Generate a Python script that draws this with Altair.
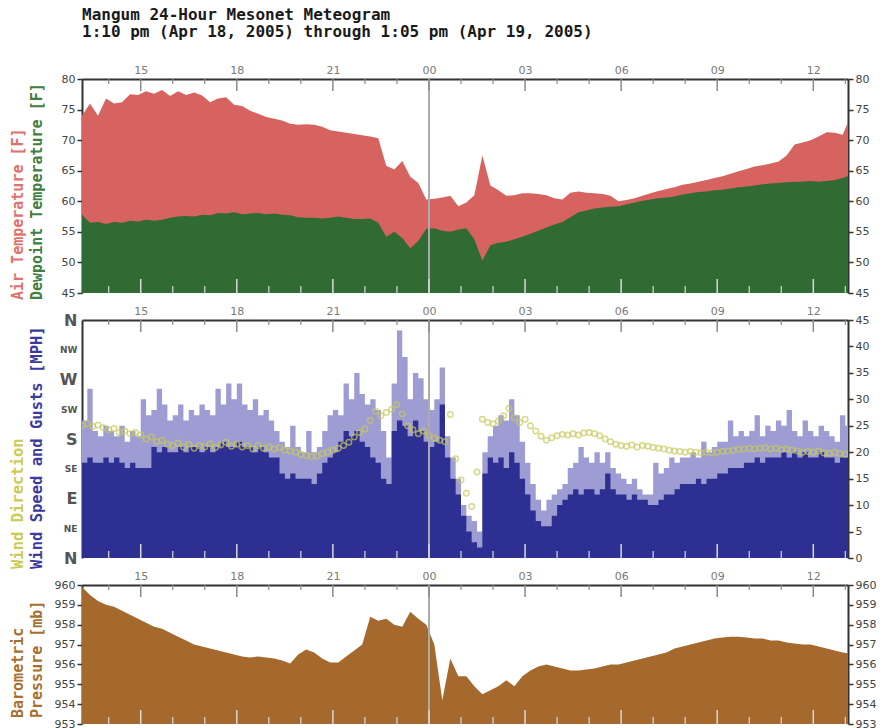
import altair as alt
import numpy as np
import pandas as pd

# ---------------- text ----------------
TITLE_LINES = ["Mangum 24-Hour Mesonet Meteogram",
               "1:10 pm (Apr 18, 2005) through 1:05 pm (Apr 19, 2005)"]
AXIS_TITLES = ["Air Temperature [F]", "Dewpoint Temperature [F]",
               "Wind Direction", "Wind Speed and Gusts [MPH]",
               "Barometric", "Pressure [mb]"]
DIR_NAMES = ["N", "NE", "E", "SE", "S", "SW", "W", "NW", "N"]

# ---------------- ticks ----------------
START_HOUR = 13 + 10 / 60
END_HOUR = 37 + 5 / 60
HOUR_LABELS = [15, 18, 21, 24, 27, 30, 33, 36]
MINOR_HOURS = [14, 16, 17, 19, 20, 22, 23, 25, 26, 28, 29, 31, 32, 34, 35, 37]
MIDNIGHT = [24]
TEMP_TICKS = [45, 50, 55, 60, 65, 70, 75, 80]
SPEED_TICKS = [0, 5, 10, 15, 20, 25, 30, 35, 40, 45]
DIR_TICKS = [0, 45, 90, 135, 180, 225, 270, 315, 360]
PRES_TICKS = [953, 954, 955, 956, 957, 958, 959, 960]

# ---------------- 15-minute series (from 1:10 pm) ----------------
AIR_TEMP = [74.0, 76.0, 74.0, 76.8, 76.0, 76.2, 77.5, 77.4,
            78.0, 77.6, 78.2, 77.2, 78.0, 77.4, 77.8, 77.3,
            76.2, 76.8, 77.0, 75.8, 75.6, 74.8, 74.3, 73.8,
            73.5, 73.2, 72.7, 72.5, 72.6, 72.5, 72.2, 71.6,
            71.4, 71.2, 71.0, 70.8, 70.6, 70.3, 65.8, 65.2,
            66.6, 64.0, 63.0, 60.3, 60.4, 60.6, 60.9, 59.2,
            59.8, 61.0, 67.5, 62.6, 61.8, 60.9, 61.0, 61.3,
            61.3, 61.2, 61.0, 60.5, 60.3, 61.4, 61.6, 61.4,
            61.3, 61.2, 60.9, 60.0, 60.2, 60.5, 60.9, 61.3,
            61.7, 62.0, 62.3, 62.7, 62.9, 63.2, 63.5, 63.8,
            64.1, 64.5, 64.9, 65.3, 65.7, 65.9, 66.2, 66.5,
            67.5, 69.3, 69.6, 70.0, 70.6, 71.3, 71.2, 70.9,
            74.0]
DEW_TEMP = [57.8, 56.5, 56.6, 56.3, 56.6, 56.5, 56.8, 56.7,
            57.0, 56.8, 57.0, 57.3, 57.5, 57.6, 57.5, 57.8,
            57.7, 58.1, 58.0, 58.2, 57.9, 58.0, 58.1, 57.9,
            58.0, 57.8, 57.7, 57.4, 57.3, 57.3, 57.2, 57.3,
            57.5, 57.3, 57.1, 57.1, 57.2, 56.5, 54.2, 55.0,
            54.0, 52.3, 53.5, 55.5, 55.6, 55.2, 55.0, 55.4,
            55.6, 53.8, 50.3, 52.8, 53.2, 53.4, 53.8, 54.2,
            54.7, 55.2, 55.7, 56.2, 56.6, 57.4, 58.2, 58.5,
            58.8, 59.0, 59.1, 59.2, 59.5, 59.8, 60.1, 60.3,
            60.5, 60.6, 60.8, 61.1, 61.3, 61.5, 61.6, 61.8,
            61.9, 62.1, 62.3, 62.4, 62.6, 62.8, 62.9, 63.0,
            63.1, 63.2, 63.2, 63.3, 63.2, 63.3, 63.5, 63.8,
            64.3]
PRESSURE = [959.9, 959.5, 959.2, 959.0, 958.9, 958.7, 958.5, 958.3,
            958.1, 957.9, 957.8, 957.6, 957.4, 957.2, 957.0, 956.9,
            956.8, 956.7, 956.6, 956.5, 956.4, 956.35, 956.4, 956.35,
            956.3, 956.2, 956.05, 956.5, 956.75, 956.6, 956.3, 956.1,
            956.1, 956.4, 956.7, 957.0, 958.4, 958.2, 958.3, 958.0,
            957.9, 958.65, 958.3, 958.0, 957.0, 954.2, 956.3, 955.4,
            955.4, 954.9, 954.5, 954.7, 954.9, 955.2, 954.9, 955.4,
            955.7, 955.9, 956.0, 955.9, 955.8, 955.7, 955.7, 955.75,
            955.8, 955.9, 956.0, 956.0, 956.1, 956.2, 956.3, 956.4,
            956.5, 956.6, 956.8, 956.9, 957.0, 957.1, 957.2, 957.3,
            957.35, 957.4, 957.4, 957.35, 957.3, 957.3, 957.2, 957.2,
            957.1, 957.05, 957.0, 957.0, 956.9, 956.8, 956.7, 956.6,
            956.55]

# ---------------- 10-minute series (from 1:10 pm) ----------------
WIND_SPEED = [18, 19, 18, 18, 19,
              18, 19, 18, 17, 18, 17,
              17, 17, 21, 20, 21, 20,
              20, 21, 20, 21, 21, 20,
              21, 20, 21, 22, 21, 21,
              22, 21, 21, 20, 21, 20,
              19, 19, 16, 15, 16, 15,
              15, 15, 14, 16, 18, 19,
              20, 22, 24, 23, 24, 22,
              21, 19, 18, 15, 14, 24,
              26, 25, 23, 26, 24, 22,
              21, 22, 29, 19, 15, 12,
              8, 5, 3, 2, 16, 19,
              18, 19, 17, 20, 18, 15,
              12, 9, 7, 6, 6, 8,
              10, 11, 12, 13, 12, 13,
              13, 12, 13, 16, 13, 12,
              12, 11, 12, 11, 11, 10,
              10, 11, 12, 12, 13, 14,
              14, 14, 15, 14, 15, 15,
              16, 16, 17, 17, 17, 18,
              18, 19, 18, 19, 19, 19,
              20, 19, 20, 19, 20, 19,
              19, 20, 19, 19, 18, 19,
              19, 19]
WIND_GUST = [26, 32, 24, 23, 25,
             24, 23, 25, 22, 24, 23,
             30, 27, 28, 32, 29, 26,
             27, 29, 26, 28, 27, 29,
             28, 27, 32, 29, 33, 30,
             33, 29, 28, 30, 27, 28,
             26, 24, 22, 21, 25, 21,
             20, 24, 20, 21, 24, 27,
             28, 27, 33, 30, 35, 31,
             29, 30, 28, 24, 19, 33,
             43, 38, 30, 35, 34, 30,
             28, 30, 36, 23, 19, 15,
             10, 8, 7, 5, 20, 23,
             25, 27, 26, 30, 27, 22,
             18, 14, 11, 9, 11, 12,
             13, 14, 17, 18, 21, 19,
             18, 20, 18, 20, 17, 16,
             15, 14, 15, 13, 12, 12,
             18, 16, 17, 19, 18, 19,
             19, 20, 19, 22, 20, 21,
             22, 22, 26, 23, 24, 23,
             24, 27, 23, 25, 24, 26,
             25, 28, 24, 23, 26, 24,
             23, 25, 24, 23, 22, 27,
             25, 25]
WIND_DIR = [200, 203, 199, 201, 197,
            194, 196, 190, 192, 188, 190,
            186, 180, 183, 176, 178, 172,
            170, 174, 168, 172, 166, 170,
            168, 173, 167, 171, 175, 169,
            172, 168, 170, 165, 170, 166,
            168, 165, 167, 163, 162, 160,
            157, 155, 153, 154, 158, 160,
            163, 166, 170, 175, 183, 190,
            195, 208, 222, 215, 220, 225,
            232, 218, 200, 194, 188, 192,
            185, 181, 178, 176, 217, 150,
            118, 98, 78, 130, 210, 205,
            203, 207, 215, 226, 212, 205,
            210, 200, 192, 184, 178, 182,
            185, 187, 186, 188, 186, 189,
            190, 188, 185, 180, 176, 172,
            170, 169, 171, 168, 170, 169,
            167, 166, 165, 163, 162, 161,
            160, 161, 160, 159, 160, 159,
            160, 161, 162, 163, 164, 165,
            166, 165, 166, 167, 165, 166,
            164, 165, 163, 162, 160, 161,
            160, 162, 159, 158, 160, 158,
            157, 159]

# ---------------- frames ----------------
temp_df = pd.DataFrame({
    "h": START_HOUR + np.arange(len(AIR_TEMP)) * 0.25,
    "air": AIR_TEMP, "dew": DEW_TEMP, "pres": PRESSURE})
wind_df = pd.DataFrame({
    "h": START_HOUR + np.arange(len(WIND_SPEED)) / 6.0,
    "speed": WIND_SPEED, "gust": WIND_GUST, "dir": WIND_DIR})

W = 766
H1, H2, H3 = 214, 238, 139
MONO = "DejaVu Sans Mono"
SANS = "DejaVu Sans"

AIR_C, DEW_C = "#D6635F", "#2F6B33"
GUST_C, SPEED_C, DIR_C = "#9D9DD3", "#2D3092", "#C9C95B"
PRES_C = "#A5692D"


def xenc():
    return alt.X("h:Q",
                 scale=alt.Scale(domain=[START_HOUR, END_HOUR], nice=False, zero=False),
                 axis=alt.Axis(orient="top", values=HOUR_LABELS,
                               labelExpr="(datum.value % 24 < 10 ? '0' : '') + (datum.value % 24)",
                               ticks=False, domainColor="#333333", domainWidth=2,
                               labelColor="#7a7a7a", labelFont=SANS, labelFontSize=11,
                               labelPadding=4, labelFlush=False, grid=False, title=None))


def yaxis(orient, values, **kw):
    base = dict(orient=orient, values=values, title=None, grid=False,
                domainColor="#333333", domainWidth=2, tickColor="#333333",
                tickSize=5, tickWidth=1.5, labelColor="#444444", labelFont=SANS,
                labelFontSize=11, labelPadding=2, labelFlush=False, labelOverlap=False)
    base.update(kw)
    return alt.Axis(**base)


def deco(H):
    maj = pd.DataFrame({"h": HOUR_LABELS})
    mnr = pd.DataFrame({"h": MINOR_HOURS})
    mid = pd.DataFrame({"h": MIDNIGHT})
    return [
        alt.Chart(mid).mark_rule(color="#ababab", strokeWidth=2).encode(
            x=xenc(), y=alt.value(0), y2=alt.value(H)),
        alt.Chart(maj).mark_rule(color="#8a8a8a", strokeWidth=1.5).encode(
            x=xenc(), y=alt.value(0), y2=alt.value(12)),
        alt.Chart(mnr).mark_rule(color="#8a8a8a", strokeWidth=1.2).encode(
            x=xenc(), y=alt.value(0), y2=alt.value(5)),
        alt.Chart(maj).mark_rule(color="#d8d8d8", strokeWidth=1.5).encode(
            x=xenc(), y=alt.value(H - 14), y2=alt.value(H)),
        alt.Chart(mnr).mark_rule(color="#d8d8d8", strokeWidth=1.2).encode(
            x=xenc(), y=alt.value(H - 7), y2=alt.value(H)),
    ]


def side_text(text, color, x, y, size=15):
    return alt.Chart(pd.DataFrame({"t": [text]})).mark_text(
        font=MONO, fontWeight="bold", fontSize=size, angle=270, align="left",
        baseline="middle", color=color).encode(text="t:N", x=alt.value(x), y=alt.value(y))


def title_text(text, y):
    return alt.Chart(pd.DataFrame({"t": [text]})).mark_text(
        font=MONO, fontWeight="bold", fontSize=16, align="left",
        baseline="alphabetic", color="#1a1a1a").encode(text="t:N", x=alt.value(0), y=alt.value(y))


# ---------------- panel 1: temperatures ----------------
tscale = alt.Scale(domain=[45, 80], nice=False, zero=False)
tbase = alt.Chart(temp_df)
air = tbase.mark_area(color=AIR_C, clip=True).encode(
    x=xenc(), y=alt.Y("air:Q", scale=tscale, axis=yaxis("left", TEMP_TICKS)), y2=alt.datum(45))
dew = tbase.mark_area(color=DEW_C, clip=True).encode(
    x=xenc(), y=alt.Y("dew:Q", scale=tscale, axis=yaxis("right", TEMP_TICKS)), y2=alt.datum(45))
p1 = alt.layer(
    air, dew, *deco(H1),
    title_text(TITLE_LINES[0], -59), title_text(TITLE_LINES[1], -42),
    side_text(AXIS_TITLES[0], "#E2716C", -64, 221),
    side_text(AXIS_TITLES[1], "#3F7F3F", -45, 221),
).resolve_scale(y="independent").properties(width=W, height=H1)

# ---------------- panel 2: wind ----------------
sscale = alt.Scale(domain=[0, 45], nice=False, zero=False)
wbase = alt.Chart(wind_df)
gust = wbase.mark_area(color=GUST_C, interpolate="step-after", clip=True).encode(
    x=xenc(), y=alt.Y("gust:Q", scale=sscale, axis=yaxis("right", SPEED_TICKS)), y2=alt.datum(0))
speed = wbase.mark_area(color=SPEED_C, interpolate="step-after", clip=True).encode(
    x=xenc(), y=alt.Y("speed:Q", scale=sscale, axis=None), y2=alt.datum(0))
dname = "[" + ",".join("'%s'" % n for n in DIR_NAMES) + "][round(datum.value / 45)]"
direction = wbase.mark_point(shape="circle", filled=False, size=30, strokeWidth=1.5,
                             color=DIR_C, clip=True).encode(
    x=xenc(),
    y=alt.Y("dir:Q", scale=alt.Scale(domain=[0, 360], nice=False, zero=False),
            axis=yaxis("left", DIR_TICKS, labelExpr=dname, ticks=False, labelPadding=5,
                       labelFontWeight="bold", labelColor="#555555",
                       labelFontSize={"condition": {"test": "datum.value % 90 === 0", "value": 16},
                                      "value": 9})))
p2 = alt.layer(
    gust, speed, direction, *deco(H2),
    side_text(AXIS_TITLES[2], "#CBCB55", -64, 249, 15.5),
    side_text(AXIS_TITLES[3], "#3B3B9E", -45, 249, 15.5),
).resolve_scale(y="independent").properties(width=W, height=H2)

# ---------------- panel 3: pressure ----------------
pscale = alt.Scale(domain=[953, 960], nice=False, zero=False)
pbase = alt.Chart(temp_df)
pres = pbase.mark_area(color=PRES_C, clip=True).encode(
    x=xenc(), y=alt.Y("pres:Q", scale=pscale, axis=yaxis("left", PRES_TICKS)), y2=alt.datum(953))
pres_r = pbase.mark_area(color=PRES_C, opacity=0, clip=True).encode(
    x=xenc(), y=alt.Y("pres:Q", scale=pscale, axis=yaxis("right", PRES_TICKS)), y2=alt.datum(953))
p3 = alt.layer(
    pres, pres_r, *deco(H3),
    side_text(AXIS_TITLES[4], "#A8702F", -64, 133),
    side_text(AXIS_TITLES[5], "#A8702F", -45, 133),
).resolve_scale(y="independent").properties(width=W, height=H3)

chart = alt.vconcat(p1, p2, p3, spacing=27, bounds="flush").properties(
    padding={"left": 10, "top": 7, "right": 5, "bottom": 5},
    background="white",
).configure_view(stroke=None)

chart.save("out.html", embed_options={"renderer": "svg", "actions": False})
